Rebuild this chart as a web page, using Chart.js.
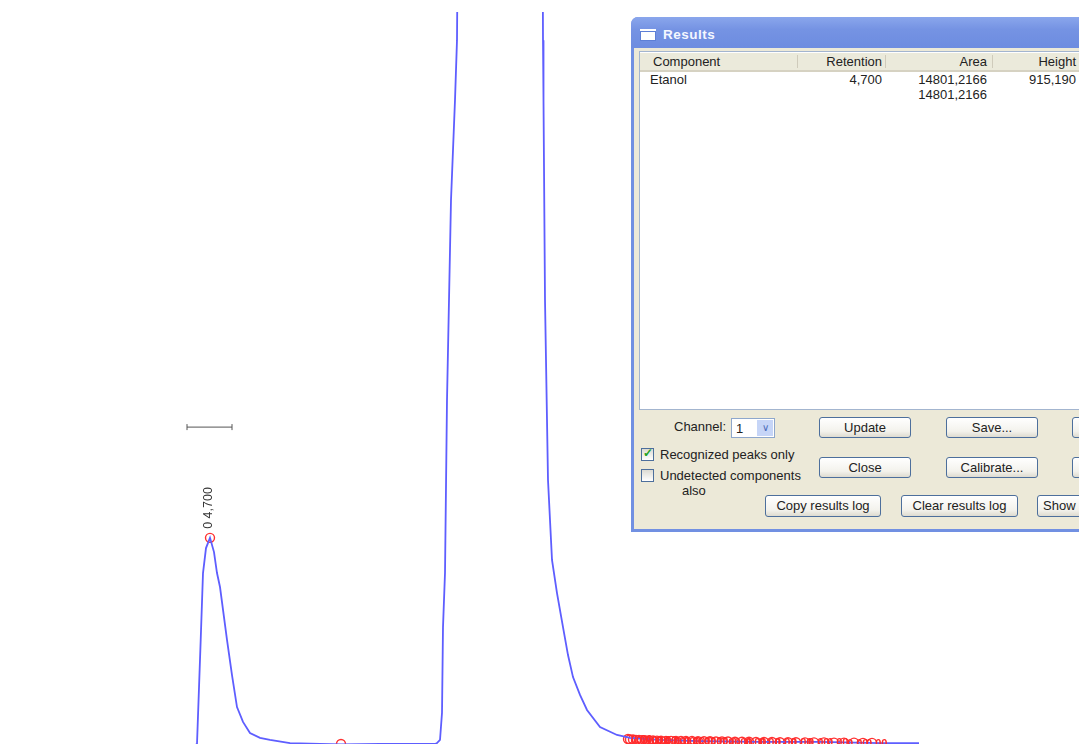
<!DOCTYPE html>
<html>
<head>
<meta charset="utf-8">
<script src="https://cdn.jsdelivr.net/npm/chart.js@4/dist/chart.umd.min.js"></script>
<style>
  html, body { margin: 0; padding: 0; background: #fff; overflow: hidden; }
  #wrap { position: relative; width: 1079px; height: 744px; }
  #chromo { position: absolute; left: 0; top: 0; }
  .dlg {
    position: absolute; left: 631px; top: 17px; width: 470px; height: 515px;
    box-sizing: border-box; background: #ece9d8;
    border: 3px solid #7190e2; border-top-left-radius: 7px;
    font-family: "Liberation Sans", Arial, sans-serif; font-size: 13px; color: #222;
  }
  .title {
    position: absolute; left: -3px; top: -3px; right: -3px; height: 31px;
    border-top-left-radius: 7px;
    background: linear-gradient(#8aa6ec, #7593e3 40%, #6d8ce0);
    color: #f4f7ff; font-weight: bold; font-size: 13.5px; letter-spacing: 0.5px;
  }
  .title .icon {
    position: absolute; left: 9px; top: 12px; width: 16px; height: 10px;
    background: #fff; border-top: 2px solid #fff; box-shadow: 0 0 0 1px #5d7fd6 inset;
  }
  .title span { position: absolute; left: 32px; top: 10px; }
  .list {
    position: absolute; left: 5px; top: 31px; width: 470px; height: 359px;
    background: #fff; border: 1px solid #a3b5cf; box-sizing: border-box;
  }
  .hdr {
    position: absolute; left: 0; top: 1px; right: 0; height: 17px;
    background: #ebeadb; border-bottom: 2px solid #d6d2c2;
  }
  .col { position: absolute; top: 1px; white-space: nowrap; }
  .sep { position: absolute; top: 2px; width: 1px; height: 13px; background: #cfcbbb; }
  .cell { position: absolute; white-space: nowrap; }
  .r { text-align: right; }
  .btn {
    position: absolute; height: 21px; box-sizing: border-box;
    border: 1px solid #4d6f9c; border-radius: 3px;
    background: linear-gradient(#ffffff, #f3f2ec 70%, #dedbd0);
    text-align: center; line-height: 19px; white-space: nowrap; overflow: hidden;
  }
  .chk {
    position: absolute; width: 13px; height: 13px; box-sizing: border-box;
    border: 1px solid #4d6f9c; background: linear-gradient(#dcdbd3, #fff);
  }
  .lbl { position: absolute; white-space: nowrap; }
  .combo {
    position: absolute; left: 97px; top: 398px; width: 44px; height: 20px; box-sizing: border-box;
    border: 1px solid #8ea7cc; background: #fff;
  }
  .combo .arrow {
    position: absolute; right: 1px; top: 1px; width: 16px; height: 16px;
    background: #c6d5f7; color: #4b6bb8; font-size: 10px; text-align: center; line-height: 16px;
  }
</style>
</head>
<body>
<div id="wrap">
  <canvas id="chromo" width="1079" height="744"></canvas>

  <div class="dlg">
    <div class="title"><div class="icon"></div><span>Results</span></div>
    <div class="list">
      <div class="hdr">
        <div class="col" style="left:13px">Component</div>
        <div class="sep" style="left:157px"></div>
        <div class="col r" style="left:160px;width:82px">Retention</div>
        <div class="sep" style="left:245px"></div>
        <div class="col r" style="left:250px;width:97px">Area</div>
        <div class="sep" style="left:352px"></div>
        <div class="col r" style="left:356px;width:80px">Height</div>
      </div>
      <div id="rows"></div>
    </div>

    <div class="lbl" style="left:40px;top:399px">Channel:</div>
    <div class="combo"><span style="position:absolute;left:4px;top:2px">1</span><div class="arrow">&#8744;</div></div>

    <div class="chk" style="left:7px;top:428px"><span style="position:absolute;left:1px;top:-3px;color:#21a121;font-size:12px;font-weight:bold">&#10003;</span></div>
    <div class="lbl" style="left:26px;top:427px">Recognized peaks only</div>
    <div class="chk" style="left:7px;top:449px"></div>
    <div class="lbl" style="left:26px;top:448px">Undetected components</div>
    <div class="lbl" style="left:48px;top:463px">also</div>

    <div class="btn" style="left:185px;top:397px;width:92px">Update</div>
    <div class="btn" style="left:312px;top:397px;width:92px">Save...</div>
    <div class="btn" style="left:438px;top:397px;width:92px">Print...</div>
    <div class="btn" style="left:185px;top:437px;width:92px">Close</div>
    <div class="btn" style="left:312px;top:437px;width:92px">Calibrate...</div>
    <div class="btn" style="left:438px;top:437px;width:92px">Export...</div>
    <div class="btn" style="left:131px;top:475px;width:116px;height:22px">Copy results log</div>
    <div class="btn" style="left:267px;top:475px;width:117px;height:22px">Clear results log</div>
    <div class="btn" style="left:403px;top:475px;width:100px;height:22px;text-align:left;padding-left:5px">Show ...</div>
  </div>
</div>

<script>
// Detector trace, time in minutes and signal in mV
const times = [3.65, 4.40, 4.60, 4.635, 4.6535, 4.665, 4.68, 4.70, 4.72, 4.735, 4.75, 4.785, 4.81, 4.835,
  4.865, 4.90, 4.95, 5.00, 5.10, 5.25, 5.355, 5.55, 5.75, 5.825, 5.835, 5.85, 5.86, 5.865, 5.875, 5.885,
  5.905, 5.925, 5.935, 5.94, 6.10, 6.3625, 6.365, 6.3675, 6.375, 6.39, 6.41, 6.435, 6.465, 6.49, 6.515,
  6.55, 6.585, 6.65, 6.735, 6.80, 6.95, 7.15, 7.45, 7.75, 8.05, 8.245];
const signal = [-70, -40, -18, 0, 462, 759, 870, 915.19, 852, 759, 697, 462, 306, 164,
  98, 49, 27, 18, 4, 0, -2, 0, 0, 0, 4, 18, 138, 519, 759, 1527,
  2415, 2859, 3125, 3747, 14000, 3747, 3125, 2859, 1971, 1172, 817, 670, 519, 395, 297,
  218, 151, 75, 40, 27, 18, 13, 9, 9, 4, 4];

// Detected peaks / baseline points (red markers)
const peakTimes = [4.70, 5.355, 6.79, 6.80, 6.815, 6.83, 6.845, 6.86, 6.875, 6.895, 6.915, 6.935, 6.955,
  6.98, 7.005, 7.03, 7.055, 7.08, 7.11, 7.14, 7.17, 7.20, 7.23, 7.26, 7.29, 7.325, 7.36, 7.395, 7.43,
  7.47, 7.51, 7.55, 7.59, 7.63, 7.675, 7.72, 7.77, 7.82, 7.87, 7.92, 7.965, 8.01];
const peakHeights = [915.19, 0, 22, 20, 20, 18, 18, 17, 17, 16, 16, 15, 15,
  14, 14, 14, 13, 13, 13, 12, 12, 12, 11, 11, 11, 10, 10, 10, 9,
  9, 9, 8, 8, 8, 7, 7, 7, 6, 6, 6, 5, 5];
const peakLabels = ['0 4,700'];
const smallLabel = '0,00';

// Scale marker above the first peak
const barTimes = [4.585, 4.81];
const barLevel = [1407, 1407];

const trace = times.map((t, i) => ({ x: t, y: signal[i] }));
const peaks = peakTimes.map((t, i) => ({ x: t, y: peakHeights[i] }));
const bar = barTimes.map((t, i) => ({ x: t, y: barLevel[i] }));

// results table rows
const rows = [
  ['Etanol', '4,700', '14801,2166', '915,190'],
  ['', '', '14801,2166', '']
];
const rowsEl = document.getElementById('rows');
rows.forEach((r, i) => {
  const top = 20 + i * 15;
  rowsEl.innerHTML += `
    <div class="cell" style="left:10px;top:${top}px">${r[0]}</div>
    <div class="cell r" style="left:160px;width:82px;top:${top}px">${r[1]}</div>
    <div class="cell r" style="left:250px;width:97px;top:${top}px">${r[2]}</div>
    <div class="cell r" style="left:356px;width:80px;top:${top}px">${r[3]}</div>`;
});

const peakText = {
  id: 'peakText',
  afterDatasetsDraw(chart) {
    const ctx = chart.ctx;
    const pts = chart.getDatasetMeta(1).data;
    ctx.save();
    // rotated label above the named peak
    ctx.fillStyle = '#333';
    ctx.font = '12.5px "Liberation Sans", Arial, sans-serif';
    ctx.translate(pts[0].x - 1, pts[0].y - 9);
    ctx.rotate(-Math.PI / 2);
    ctx.textAlign = 'left';
    ctx.textBaseline = 'middle';
    ctx.fillText(peakLabels[0], 0, 0);
    ctx.restore();

    // overlapping labels of the small baseline peaks
    ctx.save();
    ctx.fillStyle = '#ff2a2a';
    ctx.font = 'bold 11px "Liberation Sans", Arial, sans-serif';
    ctx.textBaseline = 'middle';
    for (let i = 2; i < pts.length; i += 2) {
      ctx.fillText(smallLabel, pts[i].x + 3, pts[i].y + 1);
    }
    ctx.restore();
  }
};

new Chart(document.getElementById('chromo'), {
  type: 'line',
  data: {
    datasets: [
      {
        data: trace,
        borderColor: '#5e5eff',
        borderWidth: 1.8,
        pointRadius: 0,
        tension: 0,
        clip: { left: 0, top: 0, right: 0, bottom: 2 }
      },
      {
        data: peaks,
        showLine: false,
        pointStyle: 'circle',
        pointRadius: 4.5,
        pointBorderWidth: 1.4,
        pointBorderColor: '#ff3030',
        pointBackgroundColor: 'rgba(0,0,0,0)',
        clip: false
      },
      {
        data: bar,
        borderColor: '#555',
        borderWidth: 1,
        pointStyle: 'line',
        rotation: 90,
        pointRadius: 3,
        pointBorderColor: '#555',
        pointBorderWidth: 1
      }
    ]
  },
  options: {
    responsive: false,
    animation: false,
    layout: { autoPadding: false, padding: { top: 12, left: 0, right: 0, bottom: 0 } },
    plugins: { legend: { display: false }, tooltip: { enabled: false } },
    scales: {
      x: { type: 'linear', min: 3.65, max: 9.045, display: false },
      y: { type: 'linear', min: 0, max: 3250, display: false }
    }
  },
  plugins: [peakText]
});
</script>
</body>
</html>
